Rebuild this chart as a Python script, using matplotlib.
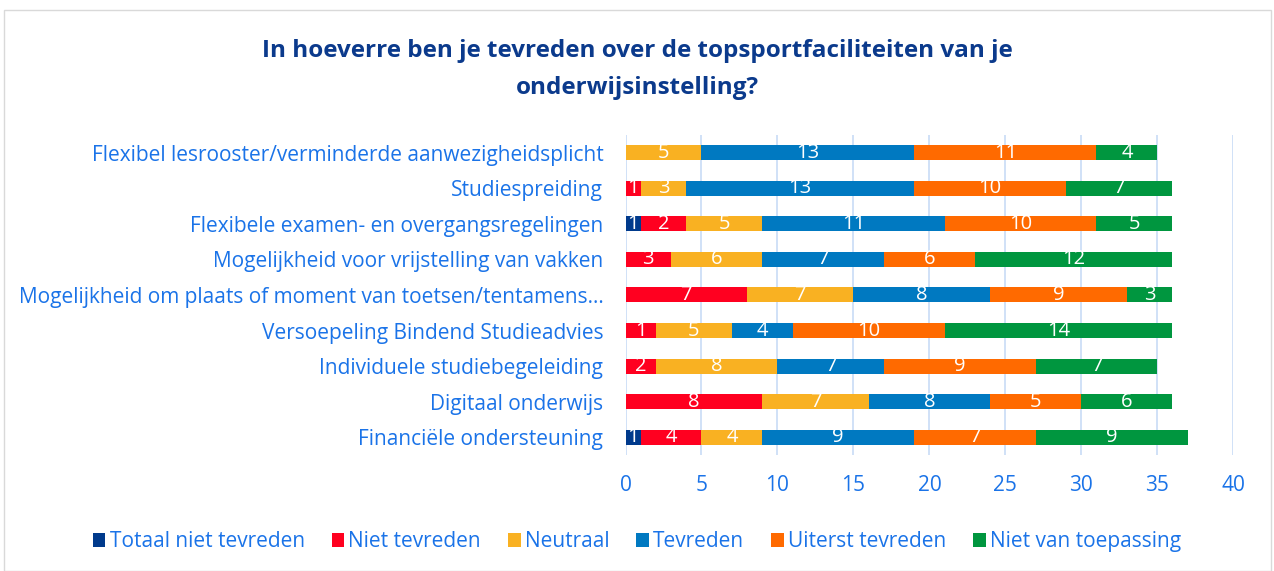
import numpy as np
import matplotlib.pyplot as plt
from matplotlib.patches import Rectangle

categories = [
    "Flexibel lesrooster/verminderde aanwezigheidsplicht",
    "Studiespreiding",
    "Flexibele examen- en overgangsregelingen",
    "Mogelijkheid voor vrijstelling van vakken",
    "Mogelijkheid om plaats of moment van toetsen/tentamens…",
    "Versoepeling Bindend Studieadvies",
    "Individuele studiebegeleiding",
    "Digitaal onderwijs",
    "Financiële ondersteuning",
]
series = ["Totaal niet tevreden", "Niet tevreden", "Neutraal", "Tevreden",
          "Uiterst tevreden", "Niet van toepassing"]

# segment lengths as drawn in the picture
totaal_niet = [0, 0, 1, 0, 0, 0, 0, 0, 1]
niet = [0, 1, 3, 3, 8, 2, 2, 9, 4]
neutraal = [5, 3, 5, 6, 7, 5, 8, 7, 4]
tevreden = [14, 15, 12, 8, 9, 4, 7, 8, 10]
uiterst = [12, 10, 10, 6, 9, 10, 10, 6, 8]
nvt = [4, 7, 5, 13, 3, 15, 8, 6, 10]
values = [totaal_niet, niet, neutraal, tevreden, uiterst, nvt]

# data labels as printed on the bars
lbl_totaal_niet = [0, 0, 1, 0, 0, 0, 0, 0, 1]
lbl_niet = [0, 1, 2, 3, 7, 1, 2, 8, 4]
lbl_neutraal = [5, 3, 5, 6, 7, 5, 8, 7, 4]
lbl_tevreden = [13, 13, 11, 7, 8, 4, 7, 8, 9]
lbl_uiterst = [11, 10, 10, 6, 9, 10, 9, 5, 7]
lbl_nvt = [4, 7, 5, 12, 3, 14, 7, 6, 9]
labels = [lbl_totaal_niet, lbl_niet, lbl_neutraal, lbl_tevreden, lbl_uiterst, lbl_nvt]

colors = ["#003a8c", "#ff0020", "#f9b122", "#0079c1", "#ff6a00", "#00963f"]

plt.rcParams["font.family"] = ["Open Sans", "DejaVu Sans"]
label_col = "#1a73e8"

fig = plt.figure(figsize=(12.74, 5.71), dpi=100)
ax = fig.add_axes([0.491, 0.203, 0.477, 0.561])

y = np.arange(len(categories))
left = np.zeros(len(categories))
for name, vals, lbls, c in zip(series, values, labels, colors):
    vals = np.array(vals, dtype=float)
    ax.barh(y, vals, left=left, height=0.42, color=c, label=name, zorder=3)
    for yi, v, l, t in zip(y, vals, left, lbls):
        if v > 0:
            ax.text(l + v / 2, yi, str(t), ha="center", va="center",
                    color="white", fontsize=14.5, zorder=4)
    left += vals

ax.set_xlim(0, 40)
ax.set_ylim(len(categories) - 0.5, -0.5)
ax.set_xticks(range(0, 41, 5))
ax.set_yticks(y)
ax.set_yticklabels(categories)
ax.tick_params(axis="both", length=0, labelsize=15, labelcolor=label_col)
ax.tick_params(axis="y", pad=16)
ax.tick_params(axis="x", pad=14)
ax.grid(axis="x", color="#c8dcf6", linewidth=1.2, zorder=0)
for s in ax.spines.values():
    s.set_visible(False)

fig.text(0.5, 0.91, "In hoeverre ben je tevreden over de topsportfaciliteiten van je",
         ha="center", va="center", fontsize=17.5, fontweight="bold", color="#0b3a8c")
fig.text(0.5, 0.846, "onderwijsinstelling?",
         ha="center", va="center", fontsize=17.5, fontweight="bold", color="#0b3a8c")

leg = fig.legend(loc="center", bbox_to_anchor=(0.5, 0.051), ncol=6, frameon=False,
                 fontsize=15, handlelength=0.6, handleheight=0.6, handletextpad=0.2,
                 columnspacing=1.3)
for t in leg.get_texts():
    t.set_color(label_col)

fig.patches.append(Rectangle((0.003, 0.0), 0.995, 0.982, transform=fig.transFigure,
                             fill=False, edgecolor="#d9d9d9", linewidth=1))

fig.savefig("out.png", dpi=100)
